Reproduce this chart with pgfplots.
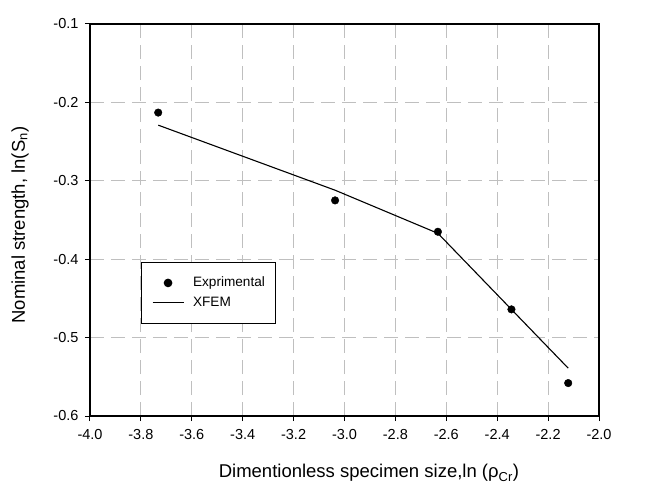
\documentclass[border=0pt]{standalone}
\usepackage{fontspec}
\setmainfont{Liberation Sans}
\usepackage{pgfplots}
\pgfplotsset{compat=1.18}
\begin{document}
\begin{tikzpicture}
\begin{axis}[
  scale only axis,
  width=509pt, height=392pt,
  xmin=-4, xmax=-2, ymin=-0.6, ymax=-0.1,
  xtick={-4,-3.8,-3.6,-3.4,-3.2,-3,-2.8,-2.6,-2.4,-2.2,-2},
  ytick={-0.6,-0.5,-0.4,-0.3,-0.2,-0.1},
  /pgf/number format/assume math mode=true,
  ticklabel style={font=\fontsize{14.5}{17}\selectfont},
  xticklabel style={yshift=-5pt, /pgf/number format/.cd, fixed, fixed zerofill, precision=1},
  yticklabel style={xshift=-3pt, /pgf/number format/.cd, fixed, fixed zerofill, precision=1},
  tick align=outside,
  major tick length=5pt,
  tick style={black, line width=1pt},
  xtick pos=bottom, ytick pos=left,
  axis line style={black, line width=1.3pt},
  grid=major,
  major grid style={gray!50, line width=1.2pt, dash pattern=on 14pt off 7pt},
  xlabel={Dimentionless specimen size,ln (ρ\textsubscript{Cr})},
  ylabel={Nominal strength, ln(S\textsubscript{n})},
  label style={font=\fontsize{18.5}{22}\selectfont},
  xlabel style={at={(axis description cs:0.548,-0.158)}, anchor=base},
  ylabel style={at={(axis description cs:-0.1375,0.487)}, anchor=center},
  legend style={at={(rel axis cs:0.1002,0.393)}, anchor=north west,
    draw=black, line width=1pt, fill=white,
    font=\fontsize{13.6}{16}\selectfont,
    inner xsep=10.5pt, inner ysep=14pt, row sep=7pt, column sep=9pt,
    nodes={inner sep=0pt, text height=10pt, text depth=3pt},
    cells={anchor=west}},
]
\addplot[only marks, mark=*, mark size=3.8pt, black,
  legend image code/.code={\fill[black] (15.5pt,0pt) circle (3.8pt); \path (0pt,0pt) (31pt,0pt);}]
  coordinates {(-3.732,-0.213) (-3.037,-0.325) (-2.633,-0.365) (-2.344,-0.464) (-2.121,-0.558)};
\addlegendentry{Exprimental}
\addplot[black, line width=1.1pt, no marks,
  legend image code/.code={\draw[black, line width=1.1pt] (0pt,0pt) -- (31pt,0pt);}]
  coordinates {(-3.732,-0.229) (-3.037,-0.312) (-2.633,-0.367) (-2.121,-0.539)};
\addlegendentry{XFEM}
\end{axis}
\path[use as bounding box] (-90pt,-68pt) rectangle (572pt,416pt);
\end{tikzpicture}
\end{document}
